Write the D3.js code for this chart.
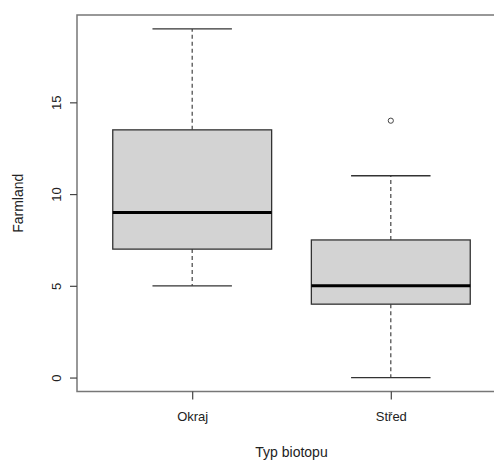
<!DOCTYPE html>
<html>
<head>
<meta charset="utf-8">
<script src="https://cdn.jsdelivr.net/npm/d3@7"></script>
<style>
  html, body { margin: 0; background: #fff; overflow: hidden; }
  svg { display: block; }
  text { font-family: "Liberation Sans", Arial, sans-serif; fill: #222; }
</style>
</head>
<body>
<div id="chart-area"></div>
<script>
// DATA
var groups = ["Okraj", "Střed"];
var whiskerLow = [5, 0];
var q1 = [7, 4];
var medians = [9, 5];
var q3 = [13.5, 7.5];
var whiskerHigh = [19, 11];
var outliers = [[], [14]];
var yTicks = [0, 5, 10, 15];

var width = 494, height = 462;
var margin = { top: 15, left: 77, bottom: 70 };
var plotW = 429; // the plot runs past the right edge, as in the cropped reference

var svg = d3.select("#chart-area").append("svg")
    .attr("width", width)
    .attr("height", height);

// SCALES (R-like 4% extension)
var x = d3.scaleLinear()
    .domain([0.42, 2.58])
    .range([margin.left, margin.left + plotW]);

var y = d3.scaleLinear()
    .domain([-0.76, 19.76])
    .range([height - margin.bottom - 0.5, margin.top]);

// Frame: top, left, bottom (right side is outside the picture)
var x0 = x(0.42), yTop = y(19.76), yBot = y(-0.76);
svg.append("path")
    .attr("d", "M" + width + "," + yTop + "H" + x0 + "V" + yBot + "H" + width)
    .attr("fill", "none")
    .attr("stroke", "#777")
    .attr("stroke-width", 1.5);

// AXES
var leftAxis = d3.axisLeft(y).tickValues(yTicks).tickSize(7).tickPadding(12);
var yAxisG = svg.append("g")
    .attr("transform", "translate(" + x0 + ",0)")
    .call(leftAxis);
yAxisG.select(".domain").remove();
yAxisG.selectAll("line").attr("stroke", "#444").attr("stroke-width", 1.2);
yAxisG.selectAll("text")
    .attr("font-size", "13px")
    .attr("x", -21)
    .attr("y", 0)
    .attr("dy", "0.35em")
    .attr("transform", "rotate(-90,-21,0)")
    .attr("text-anchor", "middle");

var bottomAxis = d3.axisBottom(x).tickValues([1, 2])
    .tickSize(8).tickPadding(12)
    .tickFormat(function (d) { return groups[d - 1]; });
var xAxisG = svg.append("g")
    .attr("transform", "translate(0," + yBot + ")")
    .call(bottomAxis);
xAxisG.select(".domain").remove();
xAxisG.selectAll("line").attr("stroke", "#444").attr("stroke-width", 1.2);
xAxisG.selectAll("text").attr("font-size", "13px");

// Axis labels
svg.append("text")
    .attr("transform", "rotate(-90)")
    .attr("x", -y(9.5))
    .attr("y", 23)
    .attr("text-anchor", "middle")
    .attr("font-size", "14px")
    .text("Farmland");

svg.append("text")
    .attr("x", x(1.5))
    .attr("y", 457)
    .attr("text-anchor", "middle")
    .attr("font-size", "14px")
    .text("Typ biotopu");

// BOXES
var idx = d3.range(groups.length);
var boxHalf = 0.4, capHalf = 0.2;
var boxes = svg.selectAll(".box").data(idx).enter().append("g").attr("class", "box");

// whiskers
boxes.append("line")
    .attr("x1", function (i) { return x(i + 1); })
    .attr("x2", function (i) { return x(i + 1); })
    .attr("y1", function (i) { return y(q3[i]); })
    .attr("y2", function (i) { return y(whiskerHigh[i]); })
    .attr("stroke", "#444").attr("stroke-width", 1.2).attr("stroke-dasharray", "4,3");
boxes.append("line")
    .attr("x1", function (i) { return x(i + 1); })
    .attr("x2", function (i) { return x(i + 1); })
    .attr("y1", function (i) { return y(q1[i]); })
    .attr("y2", function (i) { return y(whiskerLow[i]); })
    .attr("stroke", "#444").attr("stroke-width", 1.2).attr("stroke-dasharray", "4,3");

// caps
[whiskerHigh, whiskerLow].forEach(function (arr) {
    boxes.append("line")
        .attr("x1", function (i) { return x(i + 1 - capHalf); })
        .attr("x2", function (i) { return x(i + 1 + capHalf); })
        .attr("y1", function (i) { return y(arr[i]); })
        .attr("y2", function (i) { return y(arr[i]); })
        .attr("stroke", "#333").attr("stroke-width", 1.3);
});

// box
boxes.append("rect")
    .attr("x", function (i) { return x(i + 1 - boxHalf); })
    .attr("width", function (i) { return x(i + 1 + boxHalf) - x(i + 1 - boxHalf); })
    .attr("y", function (i) { return y(q3[i]); })
    .attr("height", function (i) { return y(q1[i]) - y(q3[i]); })
    .attr("fill", "#d3d3d3")
    .attr("stroke", "#333")
    .attr("stroke-width", 1.3);

// median
boxes.append("line")
    .attr("x1", function (i) { return x(i + 1 - boxHalf); })
    .attr("x2", function (i) { return x(i + 1 + boxHalf); })
    .attr("y1", function (i) { return y(medians[i]); })
    .attr("y2", function (i) { return y(medians[i]); })
    .attr("stroke", "#000").attr("stroke-width", 3);

// outliers
boxes.each(function (i) {
    d3.select(this).selectAll("circle").data(outliers[i]).enter().append("circle")
        .attr("cx", x(i + 1))
        .attr("cy", function (d) { return y(d); })
        .attr("r", 2.6)
        .attr("fill", "none")
        .attr("stroke", "#444")
        .attr("stroke-width", 1);
});
</script>
</body>
</html>
